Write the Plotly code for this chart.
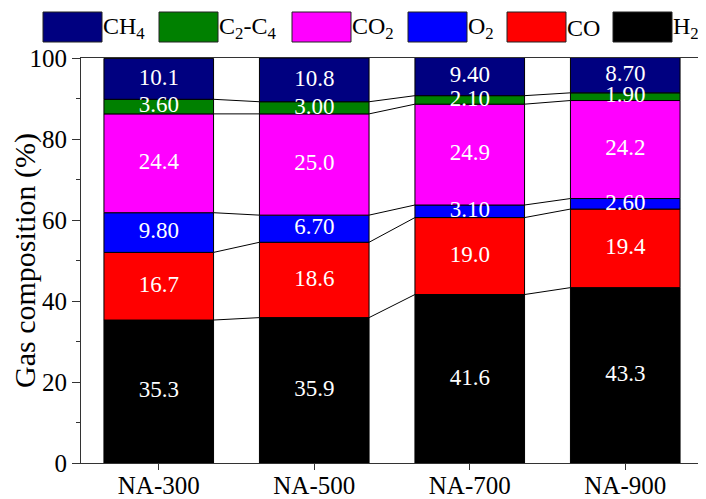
import plotly.graph_objects as go

categories = ["NA-300", "NA-500", "NA-700", "NA-900"]
h2 = [35.3, 35.9, 41.6, 43.3]
co = [16.7, 18.6, 19.0, 19.4]
o2 = [9.8, 6.7, 3.1, 2.6]
co2 = [24.4, 25.0, 24.9, 24.2]
c2c4 = [3.6, 3.0, 2.1, 1.9]
ch4 = [10.1, 10.8, 9.4, 8.7]
y_ticks = [0, 20, 40, 60, 80, 100]

series = [
    ("H<sub>2</sub>", h2, "#000000"),
    ("CO", co, "#FF0000"),
    ("O<sub>2</sub>", o2, "#0000FF"),
    ("CO<sub>2</sub>", co2, "#FF00FF"),
    ("C<sub>2</sub>-C<sub>4</sub>", c2c4, "#008000"),
    ("CH<sub>4</sub>", ch4, "#000080"),
]

FONT = "'Liberation Serif', 'Times New Roman', serif"
OFF = 8  # default page body margin
W, H = 706 - OFF, 499 - OFF
L, R, T, B = 81 - OFF, 3, 58 - OFF, 36
BW = 0.705
xs = list(range(len(categories)))

def fmt(v):
    return f"{v:.1f}" if v >= 10 else f"{v:.2f}"

fig = go.Figure()
base = [0.0] * len(categories)
cums = []
for name, vals, color in series:
    fig.add_trace(go.Bar(
        x=xs, y=vals, base=base[:], width=BW, marker=dict(color=color, line=dict(color="#000000", width=1)),
        name=name, showlegend=False, hoverinfo="skip"))
    mids = [b + v / 2 for b, v in zip(base, vals)]
    fig.add_trace(go.Scatter(
        x=xs, y=mids, mode="text", text=[fmt(v) for v in vals],
        textfont=dict(family=FONT, size=23, color="white"), showlegend=False, hoverinfo="skip"))
    base = [b + v for b, v in zip(base, vals)]
    cums.append(base[:])

# connecting lines between bars at cumulative boundaries (exclude top)
lx, ly = [], []
for level in cums[:-1]:
    for i in range(len(categories) - 1):
        lx += [xs[i] + BW / 2, xs[i + 1] - BW / 2, None]
        ly += [level[i], level[i + 1], None]
fig.add_trace(go.Scatter(x=lx, y=ly, mode="lines", line=dict(color="#000000", width=1),
                         showlegend=False, hoverinfo="skip"))

# manual legend (positions in page pixels)
pw, ph = W - L - R, H - T - B
def px_x(p):
    return (p - OFF - L) / pw
def px_y(p):
    return (H - B - (p - OFF)) / ph

legend_order = ["CH<sub>4</sub>", "C<sub>2</sub>-C<sub>4</sub>", "CO<sub>2</sub>", "O<sub>2</sub>", "CO", "H<sub>2</sub>"]
legend_boxes = [43, 159, 292, 408, 507, 613]
colors = {n: c for n, _, c in series}
for name, bx in zip(legend_order, legend_boxes):
    fig.add_shape(type="rect", xref="paper", yref="paper",
                  x0=px_x(bx), x1=px_x(bx + 59), y0=px_y(42), y1=px_y(12),
                  fillcolor=colors[name], line=dict(color="#222222", width=1))
    fig.add_annotation(xref="paper", yref="paper", x=px_x(bx + 58), y=px_y(28),
                       xanchor="left", yanchor="middle", text=name, showarrow=False,
                       font=dict(family=FONT, size=24, color="black"))

fig.update_layout(
    width=W, height=H, margin=dict(l=L, r=R, t=T, b=B, autoexpand=False),
    plot_bgcolor="white", paper_bgcolor="white", barmode="overlay",
    font=dict(family=FONT, size=25, color="black"),
)
fig.update_xaxes(range=[-0.5, 3.5], tickvals=xs, ticktext=categories, showgrid=False, zeroline=False,
                 showline=True, linecolor="#333333", linewidth=1, mirror=True, automargin=False,
                 ticks="outside", ticklen=6, tickcolor="#333333", ticklabelstandoff=-6,
                 tickfont=dict(family=FONT, size=25, color="black"))
fig.update_yaxes(range=[0, 100], tickvals=y_ticks, showgrid=False, zeroline=False,
                 showline=True, linecolor="#333333", linewidth=1, mirror=True, automargin=False,
                 ticks="outside", ticklen=8, tickcolor="#333333",
                 minor=dict(dtick=10, tick0=0, ticks="outside", ticklen=4, tickcolor="#333333"),
                 tickfont=dict(family=FONT, size=25, color="black"),
                 title=dict(text="Gas composition (%)", font=dict(family=FONT, size=30, color="black"), standoff=2))

fig.write_html("out.html")
